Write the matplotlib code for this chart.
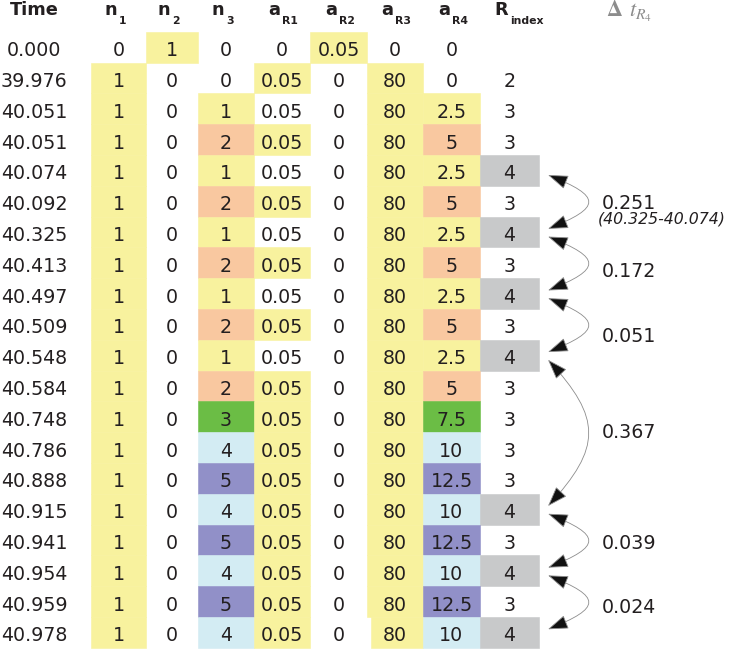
import matplotlib.pyplot as plt
from matplotlib.patches import Rectangle, FancyArrowPatch, ArrowStyle
from matplotlib.path import Path

# table values
time = ["0.000", "39.976", "40.051", "40.051", "40.074", "40.092", "40.325",
        "40.413", "40.497", "40.509", "40.548", "40.584", "40.748", "40.786",
        "40.888", "40.915", "40.941", "40.954", "40.959", "40.978"]
n1 = [0, 1, 1, 1, 1, 1, 1, 1, 1, 1, 1, 1, 1, 1, 1, 1, 1, 1, 1, 1]
n2 = [1, 0, 0, 0, 0, 0, 0, 0, 0, 0, 0, 0, 0, 0, 0, 0, 0, 0, 0, 0]
n3 = [0, 0, 1, 2, 1, 2, 1, 2, 1, 2, 1, 2, 3, 4, 5, 4, 5, 4, 5, 4]
a_r1 = ["0", "0.05", "0.05", "0.05", "0.05", "0.05", "0.05", "0.05", "0.05", "0.05",
        "0.05", "0.05", "0.05", "0.05", "0.05", "0.05", "0.05", "0.05", "0.05", "0.05"]
a_r1_marked = [0, 1, 0, 1, 0, 1, 0, 1, 0, 1, 0, 1, 1, 1, 1, 1, 1, 1, 1, 1]
a_r2 = ["0.05", "0", "0", "0", "0", "0", "0", "0", "0", "0",
        "0", "0", "0", "0", "0", "0", "0", "0", "0", "0"]
a_r3 = ["0", "80", "80", "80", "80", "80", "80", "80", "80", "80",
        "80", "80", "80", "80", "80", "80", "80", "80", "80", "80"]
a_r4 = ["0", "0", "2.5", "5", "2.5", "5", "2.5", "5", "2.5", "5",
        "2.5", "5", "7.5", "10", "12.5", "10", "12.5", "10", "12.5", "10"]
r_index = ["", "2", "3", "3", "4", "3", "4", "3", "4", "3",
           "4", "3", "3", "3", "3", "4", "3", "4", "3", "4"]
dt_labels = ["0.251", "0.172", "0.051", "0.367", "0.039", "0.024"]
dt_note = "(40.325-40.074)"

headers = [("n", "1"), ("n", "2"), ("n", "3"), ("a", "R1"), ("a", "R2"),
           ("a", "R3"), ("a", "R4"), ("R", "index")]

# layout (pixel units across, row units down)
Y0 = 49.3
PITCH = 30.8
edges = [91, 146, 198, 254, 310, 367, 423, 480, 539]
centers = [118.5, 172, 226, 282, 338.5, 395, 451.5, 509.5]
TIME_X = 34
ARROW_X = 548
LABEL_X = 602
dt_dy = [-0.04, 0.17, 0.28, -0.11, 0.0, 0.07]

INK = "#231f20"
YELLOW = "#f8f29e"
level_colors = {1: YELLOW, 2: "#f9c8a0", 3: "#6bbd45", 4: "#d3ecf3", 5: "#9190c8"}
GRAY = "#c8c9ca"
FS = 13.7

plt.rcParams["mathtext.fontset"] = "stix"

fig = plt.figure(figsize=(7.29, 6.49), dpi=100)
ax = fig.add_axes([0, 0, 1, 1])
ax.set_xlim(0, 729)
ax.set_ylim((649 - Y0) / PITCH, -Y0 / PITCH)
ax.axis("off")


def row_of(px):
    return (px - Y0) / PITCH


def cell(col, i, text, fill=None, inset=0):
    left, right = edges[col] + inset, edges[col + 1]
    if fill:
        ax.add_patch(Rectangle((left, i - 0.57), right - left, 1.0, fc=fill,
                               ec=fill, lw=0.4, zorder=1))
    ax.text(centers[col], i + 0.225, text, ha="center", va="baseline",
            fontsize=FS, color=INK, zorder=3)


# header row
ax.text(TIME_X, row_of(14.5), "Time", ha="center", va="baseline",
        fontsize=12.8, weight="bold", color=INK)
for c, (main, sub) in zip(centers, headers):
    ax.text(c - 1.5, row_of(14.5), main, ha="right", va="baseline",
            fontsize=12.8, weight="bold", color=INK)
    ax.text(c + 0.5, row_of(24), sub, ha="left", va="baseline",
            fontsize=7.8, weight="bold", color=INK)
ax.text(606, row_of(17), r"$\mathbf{\Delta}\;\,t_{R_4}$", ha="left", va="baseline",
        fontsize=16, color="#8c8c8c")

# body
for i in range(len(time)):
    ax.text(TIME_X, i + 0.225, time[i], ha="center", va="baseline",
            fontsize=FS, color=INK)
    cell(0, i, str(n1[i]), YELLOW if n1[i] else None)
    cell(1, i, str(n2[i]), YELLOW if n2[i] else None)
    cell(2, i, str(n3[i]), level_colors.get(n3[i]))
    cell(3, i, a_r1[i], YELLOW if a_r1_marked[i] else None)
    cell(4, i, a_r2[i], YELLOW if a_r2[i] != "0" else None)
    cell(5, i, a_r3[i], YELLOW if a_r3[i] != "0" else None,
         inset=4 if i == len(time) - 1 else 0)
    cell(6, i, a_r4[i], level_colors.get(n3[i]) if a_r4[i] != "0" else None)
    cell(7, i, r_index[i], GRAY if r_index[i] == "4" else None)

# curved double arrows between successive R_index == 4 rows
rows4 = [i for i, r in enumerate(r_index) if r == "4"]
style = ArrowStyle("<|-|>", head_length=0.8, head_width=0.28)
for k, (a, b) in enumerate(zip(rows4[:-1], rows4[1:])):
    y0 = a + 0.08
    y3 = b - 0.17
    bend = 0.4 * (y3 - y0)
    verts = [(ARROW_X, y0), (ARROW_X + 54, y0 + bend),
             (ARROW_X + 54, y3 - bend), (ARROW_X, y3)]
    path = Path(verts, [Path.MOVETO, Path.CURVE4, Path.CURVE4, Path.CURVE4])
    ax.add_patch(FancyArrowPatch(path=path, arrowstyle=style, mutation_scale=16,
                                 ec="#8c8c8c", fc="#111111", lw=0.6, zorder=4))
    ym = (a + b) / 2 + dt_dy[k]
    ax.text(LABEL_X, ym + 0.225, dt_labels[k], ha="left", va="baseline",
            fontsize=FS, color=INK)
    if k == 0:
        ax.text(LABEL_X - 4, ym + 0.52 + 0.18, dt_note, ha="left", va="baseline",
                fontsize=11.3, style="italic", color=INK)

fig.savefig("out.png", dpi=100)
